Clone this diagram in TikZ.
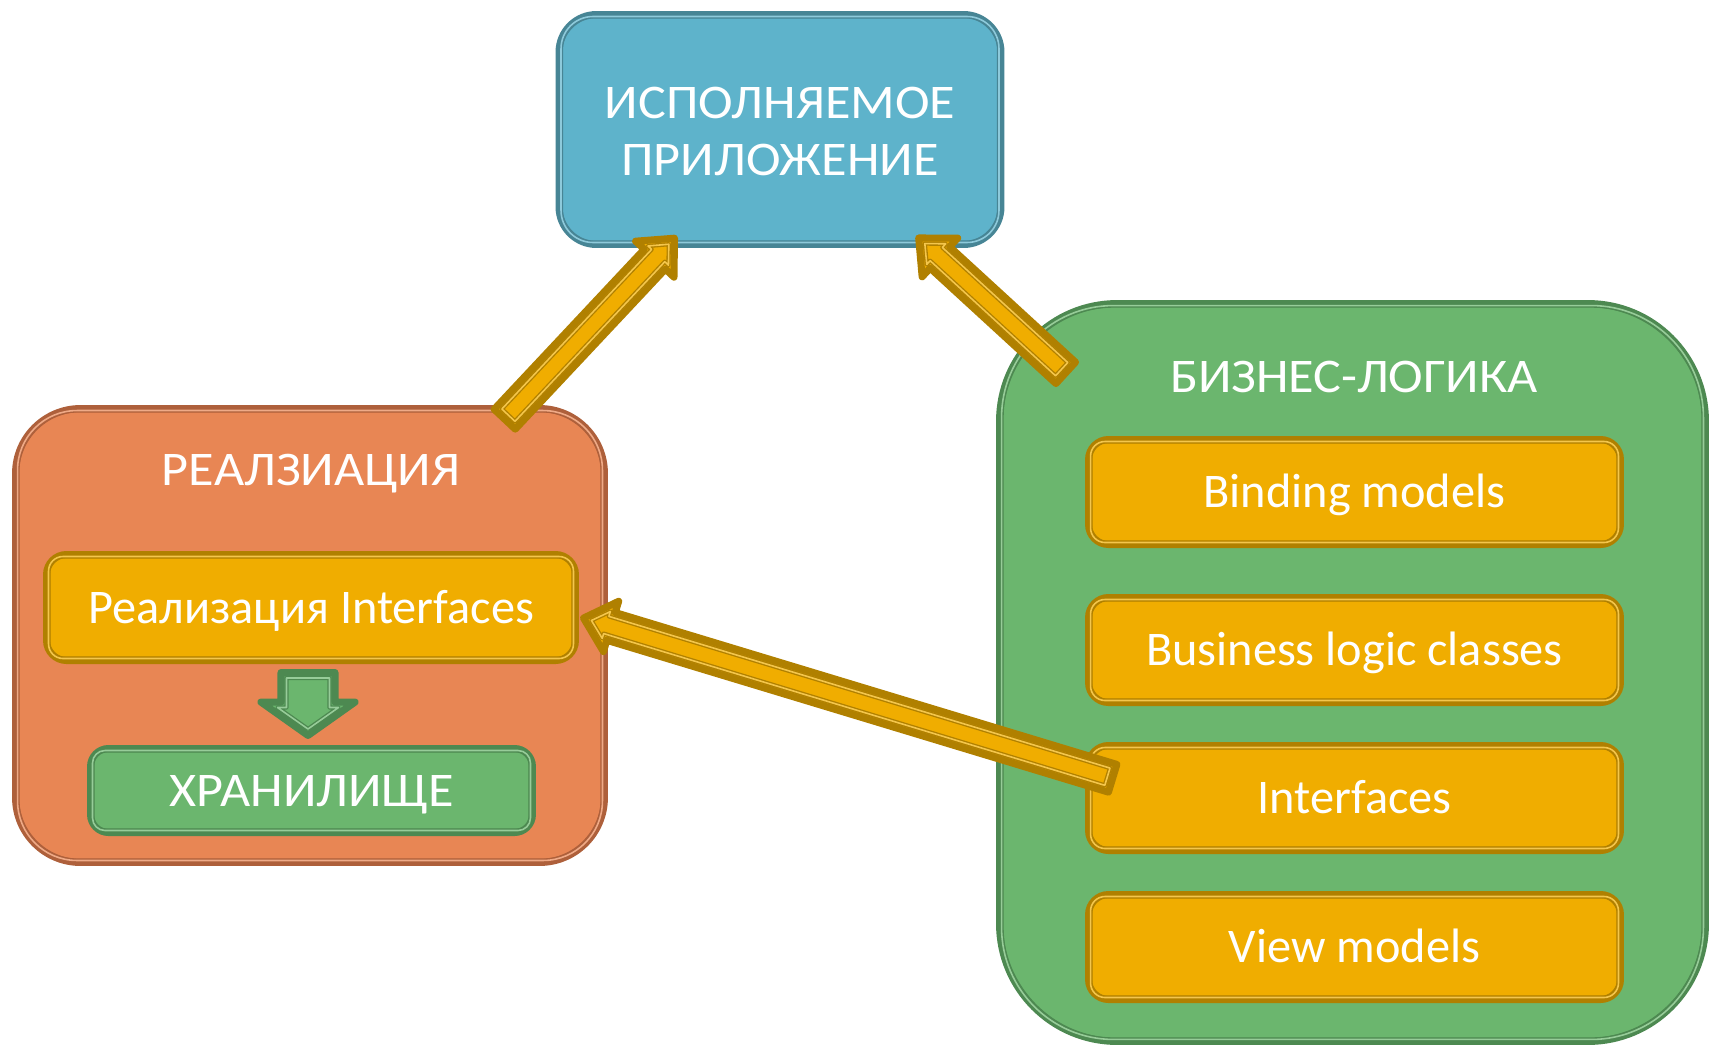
\documentclass[tikz,border=0pt]{standalone}
\usepackage{fontspec}
\setmainfont{Carlito}
\newfontfamily\capsfont[FakeStretch=1.08]{Carlito}
\usetikzlibrary{calc}

\definecolor{appfill}{HTML}{5EB3CB}
\definecolor{appline}{HTML}{478595}
\definecolor{implfill}{HTML}{E88654}
\definecolor{implline}{HTML}{AE603B}
\definecolor{bizfill}{HTML}{6BB66E}
\definecolor{bizline}{HTML}{4D8951}
\definecolor{goldfill}{HTML}{F0AD00}
\definecolor{goldline}{HTML}{B08000}

\newcommand{\bigfont}{\fontsize{27.5}{31}\selectfont}

% block arrow: style, from, to, tail inset, tip inset, shaft half width, head half width, head length
\newcommand{\blockarrow}[8]{%
  \coordinate (ba-t) at ($(#2)!#4!(#3)$);
  \coordinate (ba-p) at ($(#3)!#5!(#2)$);
  \coordinate (ba-b) at ($(ba-p)!#8!(ba-t)$);
  \draw[#1] ($(ba-t)!#6!90:(ba-p)$) -- ($(ba-b)!#6!90:(ba-p)$) -- ($(ba-b)!#7!90:(ba-p)$)
    -- (ba-p) -- ($(ba-b)!#7!-90:(ba-p)$) -- ($(ba-b)!#6!-90:(ba-p)$)
    -- ($(ba-t)!#6!-90:(ba-p)$) -- cycle;
}

\tikzset{
  box/.style={rounded corners=#1, line width=4pt, inner sep=0pt, text=white,
    font=\bigfont, text height=17.7pt, text depth=0pt},
  appbox/.style={box=0.75cm, fill=appfill, draw=appline, minimum width=8.84cm, minimum height=4.6cm},
  implbox/.style={box=1.3cm, fill=implfill, draw=implline, minimum width=11.78cm, minimum height=9.08cm},
  bizbox/.style={box=2.35cm, fill=bizfill, draw=bizline, minimum width=14.12cm, minimum height=14.76cm},
  goldbox/.style={box=0.4cm, fill=goldfill, draw=goldline, minimum width=10.64cm, minimum height=2.1cm},
  storebox/.style={box=0.36cm, fill=bizfill, draw=bizline, minimum width=8.84cm, minimum height=1.68cm,
    font=\bigfont\capsfont},
  title/.style={anchor=base, inner sep=0pt, text=white, font=\bigfont\capsfont},
  rim/.style={draw=#1line, line width=0.75pt, double=#1fill!70!white, double distance=0.9pt, line join=round},
  goldarrow/.style={fill=goldfill, draw=goldline, line width=4pt, line join=round},
  greenarrow/.style={fill=bizfill, draw=bizline, line width=4pt, line join=round}
}

\begin{document}
\begin{tikzpicture}[x=0.02cm,y=-0.02cm]
        \useasboundingbox (0,0) rectangle (1710,1045);

        % big boxes
        \node[appbox] (app) at (780,129.5) {};
        \node[implbox] (impl) at (310,635.5) {};
        \node[bizbox] (biz) at (1352.5,672.5) {};

        \node[title] (app-l1) at (780,118) {ИСПОЛНЯЕМОЕ};
        \node[title] (app-l2) at (780,175) {ПРИЛОЖЕНИЕ};
        \node[title] (impl-t) at (311,485) {РЕАЛЗИАЦИЯ};
        \node[title] (biz-t) at (1354,392) {БИЗНЕС-ЛОГИКА};

        % left side
        \node[goldbox, minimum width=10.58cm, minimum height=2.12cm] (implif) at (311,607.5) {Реализация Interfaces};
        \node[storebox] (store) at (311.5,790.5) {ХРАНИЛИЩЕ};

        % right side
        \node[goldbox] (bind) at (1354.5,492) {Binding models};
        \node[goldbox] (blc) at (1354.5,650) {Business logic classes};
        \node[goldbox] (intf) at (1354.5,798) {Interfaces};
        \node[goldbox] (view) at (1354.5,947) {View models};

        % inner lines
        \foreach \n/\c/\r in {app/app/0.64cm, impl/impl/1.19cm, biz/biz/2.24cm, implif/gold/0.29cm,
            store/biz/0.25cm, bind/gold/0.29cm, blc/gold/0.29cm, intf/gold/0.29cm, view/gold/0.29cm}
          \draw[rim=\c, rounded corners=\r] ([shift={(5.5,5.5)}]\n.north west) rectangle ([shift={(-5.5,-5.5)}]\n.south east);

        % arrows
        \coordinate (a1-from) at ([shift={(-105,16)}]impl.north east);
        \coordinate (a1-to) at ([shift={(121.5,-12.5)}]app.south west);
        \coordinate (a2-from) at ([shift={(71.5,74.5)}]biz.north west);
        \coordinate (a2-to) at ([shift={(-88.5,-12.5)}]app.south east);
        \coordinate (a3-from) at ([shift={(30,-19)}]intf.west);
        \coordinate (a3-to) at ([shift={(1,9.5)}]implif.east);
        \coordinate (a4-from) at ([shift={(-3,6)}]implif.south);
        \coordinate (a4-to) at ([shift={(-3.5,-6.5)}]store.north);

        \foreach \f/\t in {a1-from/a1-to, a2-from/a2-to, a3-from/a3-to} {
          \blockarrow{goldarrow}{\f}{\t}{0.05cm}{0.074cm}{0.29cm}{0.526cm}{0.576cm}
          \blockarrow{rim=gold}{\f}{\t}{0.16cm}{0.24cm}{0.18cm}{0.28cm}{0.31cm}
        }
        \blockarrow{greenarrow}{a4-from}{a4-to}{0.05cm}{0.061cm}{0.54cm}{0.942cm}{0.668cm}
        \blockarrow{rim=biz}{a4-from}{a4-to}{0.16cm}{0.19cm}{0.43cm}{0.61cm}{0.43cm}
\end{tikzpicture}
\end{document}
